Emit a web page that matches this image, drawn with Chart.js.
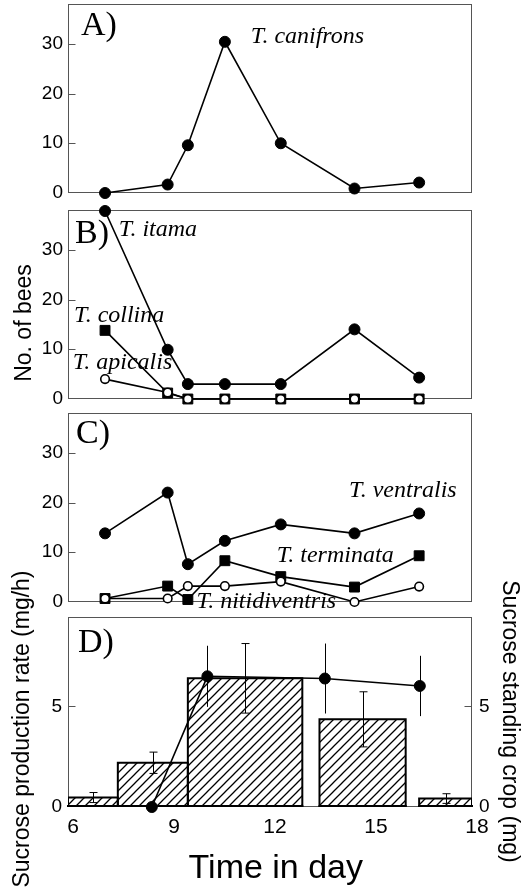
<!DOCTYPE html>
<html>
<head>
<meta charset="utf-8">
<script src="https://cdn.jsdelivr.net/npm/chart.js@4.4.1/dist/chart.umd.min.js"></script>
<style>
  html, body { margin: 0; padding: 0; background: #fff; width: 521px; height: 887px; overflow: hidden; position: relative; }
  canvas { position: absolute; left: 0; }
</style>
</head>
<body>
<canvas id="chartA" width="521" height="221" style="top:-12px"></canvas>
<canvas id="chartB" width="521" height="221" style="top:194px"></canvas>
<canvas id="chartC" width="521" height="221" style="top:397px"></canvas>
<canvas id="chartD" width="521" height="347" style="top:540px"></canvas>
<script>
// ----- data -----
// sampling times (hour of day)
const hours = [7.1, 8.96, 9.56, 10.66, 12.32, 14.51, 16.43];
// A) number of bees
const canifrons = [0, 1.7, 9.6, 30.4, 10.0, 0.9, 2.1];
// B)
const itama = [37.8, 9.9, 3.0, 3.0, 3.0, 14.0, 4.3];
const collina = [13.8, 1.2, 0, 0, 0, 0, 0];
const apicalis = [4.0, 1.3, 0, 0, 0, 0, 0];
// C)
const ventralis = [13.8, 22.0, 7.6, 12.3, 15.6, 13.8, 17.8];
const terminata = [0.7, 3.2, 0.5, 8.3, 5.1, 3.0, 9.3];
const nitidiventris = [0.7, 0.7, 3.2, 3.2, 4.1, 0, 3.1];
// D) sucrose production rate (mg/h) per interval
const binStart = [6.0, 7.48, 9.56, 13.47, 16.43];
const binEnd = [7.48, 9.56, 12.96, 16.03, 18.0];
const prodRate = [0.47, 2.2, 6.4, 4.36, 0.42];
const prodErr = [0.25, 0.53, 1.73, 1.37, 0.24];
// D) sucrose standing crop (mg)
const cropHours = [8.49, 10.14, 13.63, 16.45];
const cropMean = [0, 6.5, 6.39, 6.02];
const cropErr = [0, 1.52, 1.74, 1.5];
// ticks
const countTicks = [0, 10, 20, 30];
const sucroseTicks = [0, 5];
const hourTicks = [6, 9, 12, 15, 18];

Chart.defaults.color = '#000';
Chart.defaults.font.family = '"Liberation Sans", Arial, sans-serif';
Chart.defaults.animation = false;

const SERIF = '"Liberation Serif", "Times New Roman", serif';

function pts(xs, ys) { return xs.map((x, i) => ({x: x, y: ys[i]})); }

function hatch() {
  const c = document.createElement('canvas');
  c.width = 9; c.height = 9;
  const g = c.getContext('2d');
  g.strokeStyle = '#000';
  g.lineWidth = 1.3;
  g.beginPath();
  g.moveTo(0, 9); g.lineTo(9, 0);
  g.moveTo(-2, 2); g.lineTo(2, -2);
  g.moveTo(7, 11); g.lineTo(11, 7);
  g.stroke();
  return g.createPattern(c, 'repeat');
}

// frame around the plot + short inward tick marks
const frame = {
  id: 'frame',
  beforeDatasetsDraw(chart) {
    const {ctx, chartArea: a} = chart;
    ctx.save();
    ctx.strokeStyle = '#555';
    ctx.lineWidth = 1;
    const l = Math.round(a.left) + 0.5, t = Math.round(a.top) + 0.5;
    const r = Math.round(a.right) - 0.5, b = Math.round(a.bottom) - 0.5;
    ctx.strokeRect(l, t, r - l, b - t);
    ctx.beginPath();
    ['y', 'y2'].forEach(id => {
      const s = chart.scales[id];
      if (!s) return;
      const left = s.position === 'left';
      s.ticks.forEach(tk => {
        const py = Math.round(s.getPixelForValue(tk.value)) + 0.5;
        if (py <= t + 1 || py >= b - 1) return;
        ctx.moveTo(left ? l : r, py);
        ctx.lineTo(left ? l + 7 : r - 7, py);
      });
    });
    ctx.stroke();
    ctx.restore();
  }
};

// panel letters, species names and free axis titles
const notes = {
  id: 'notes',
  afterDraw(chart, args, opts) {
    const {ctx, chartArea: a} = chart;
    const sx = chart.scales.x, sy = chart.scales.y;
    ctx.save();
    ctx.fillStyle = '#000';
    ctx.textBaseline = 'alphabetic';
    if (opts.letter) {
      ctx.font = '34px ' + SERIF;
      ctx.textAlign = 'left';
      ctx.fillText(opts.letter[0], a.left + opts.letter[1], a.top + opts.letter[2]);
    }
    (opts.species || []).forEach(s => {
      ctx.font = 'italic 24px ' + SERIF;
      ctx.textAlign = 'left';
      ctx.fillText(s[0], sx.getPixelForValue(s[1]), sy.getPixelForValue(s[2]));
    });
    (opts.titles || []).forEach(tt => {
      ctx.save();
      ctx.font = tt.size + 'px "Liberation Sans", Arial, sans-serif';
      ctx.textAlign = 'center';
      ctx.translate(tt.x, tt.y);
      ctx.rotate(tt.rot * Math.PI / 180);
      ctx.fillText(tt.text, 0, 0);
      ctx.restore();
    });
    ctx.restore();
  }
};

// error bars for panel D
const errorBars = {
  id: 'errorBars',
  afterDatasetsDraw(chart) {
    const {ctx} = chart;
    const sx = chart.scales.x, sy = chart.scales.y, sy2 = chart.scales.y2;
    ctx.save();
    ctx.strokeStyle = '#000';
    ctx.lineWidth = 1;
    ctx.beginPath();
    prodRate.forEach((v, i) => {
      const px = Math.round(sx.getPixelForValue((binStart[i] + binEnd[i]) / 2)) + 0.5;
      const hi = sy.getPixelForValue(v + prodErr[i]);
      const lo = sy.getPixelForValue(v - prodErr[i]);
      ctx.moveTo(px, hi); ctx.lineTo(px, lo);
      ctx.moveTo(px - 4, hi); ctx.lineTo(px + 4, hi);
      ctx.moveTo(px - 4, lo); ctx.lineTo(px + 4, lo);
    });
    cropMean.forEach((v, i) => {
      if (!cropErr[i]) return;
      const px = Math.round(sx.getPixelForValue(cropHours[i])) + 0.5;
      ctx.moveTo(px, sy2.getPixelForValue(v + cropErr[i]));
      ctx.lineTo(px, sy2.getPixelForValue(v - cropErr[i]));
    });
    // bottom edges of the bars
    ctx.moveTo(0, 0);
    ctx.stroke();
    ctx.lineWidth = 2;
    ctx.beginPath();
    binStart.forEach((a, i) => {
      const y0 = sy.getPixelForValue(0) - 1;
      ctx.moveTo(sx.getPixelForValue(a) - 1, y0);
      ctx.lineTo(sx.getPixelForValue(binEnd[i]) + 1, y0);
    });
    ctx.stroke();
    ctx.restore();
  }
};

const tickFont = {size: 19};

function countAxis() {
  return {
    min: 0, max: 38,
    afterBuildTicks: s => { s.ticks = countTicks.map(v => ({value: v})); },
    afterFit: s => { s.width = 68; s.paddingTop = 0; s.paddingBottom = 0; },
    grid: {display: false, drawTicks: false},
    border: {display: false},
    ticks: {padding: 5, font: tickFont}
  };
}

function filled(data) {
  return {data: data, borderColor: '#000', backgroundColor: '#000', borderWidth: 1.6,
    pointRadius: 5.5, pointBorderWidth: 1, clip: false};
}
function squares(data) {
  return {data: data, borderColor: '#000', backgroundColor: '#000', borderWidth: 1.6,
    pointStyle: 'rect', pointRadius: 7, pointBorderWidth: 1, clip: false};
}
function open(data) {
  return {data: data, borderColor: '#000', backgroundColor: '#000', borderWidth: 1.6,
    pointBackgroundColor: '#fff', pointRadius: 4.3, pointBorderWidth: 1.6, clip: false};
}

function countPanel(id, datasets, noteOpts) {
  return new Chart(document.getElementById(id), {
    type: 'line',
    data: {datasets: datasets},
    options: {
      responsive: false,
      layout: {padding: {top: 16, bottom: 16, left: 0, right: 49}},
      scales: {
        x: {type: 'linear', min: 6, max: 18, display: false},
        y: countAxis()
      },
      plugins: {legend: {display: false}, tooltip: {enabled: false}, notes: noteOpts}
    },
    plugins: [frame, notes]
  });
}

countPanel('chartA', [filled(pts(hours, canifrons))], {
  letter: ['A)', 13, 31],
  species: [['T. canifrons', 11.43, 30.2]]
});

countPanel('chartB', [
  open(pts(hours, apicalis)),
  squares(pts(hours, collina)),
  filled(pts(hours, itama))
], {
  letter: ['B)', 7, 33],
  species: [['T. itama', 7.51, 32.8], ['T. collina', 6.18, 15.5], ['T. apicalis', 6.14, 6.0]],
  titles: [{text: 'No. of bees', x: 31, y: 129, rot: -90, size: 23}]
});

countPanel('chartC', [
  open(pts(hours, nitidiventris)),
  squares(pts(hours, terminata)),
  filled(pts(hours, ventralis))
], {
  letter: ['C)', 8, 30],
  species: [['T. ventralis', 14.35, 21.2], ['T. terminata', 12.2, 8.1], ['T. nitidiventris', 9.82, -1.27]]
});

const pattern = hatch();
const barSets = binStart.map((a, i) => ({
  data: [{x: a, y: 0}, {x: a, y: prodRate[i]}, {x: binEnd[i], y: prodRate[i]}, {x: binEnd[i], y: 0}],
  yAxisID: 'y', fill: 'origin', backgroundColor: pattern, borderColor: '#000',
  borderWidth: 2, pointRadius: 0
}));

new Chart(document.getElementById('chartD'), {
  type: 'line',
  data: {
    datasets: [Object.assign(filled(pts(cropHours, cropMean)), {yAxisID: 'y2'})].concat(barSets)
  },
  options: {
    responsive: false,
    layout: {padding: {top: 77, bottom: 0, left: 0, right: 0}},
    scales: {
      x: {
        type: 'linear', min: 6, max: 18, position: 'bottom',
        afterBuildTicks: s => { s.ticks = hourTicks.map(v => ({value: v})); },
        afterFit: s => { s.height = 80; },
        grid: {display: false, drawTicks: false},
        border: {display: false},
        ticks: {padding: 8, labelOffset: 5, maxRotation: 0, autoSkip: false, font: {size: 21}}
      },
      y: {
        min: 0, max: 9.45, position: 'left',
        afterBuildTicks: s => { s.ticks = sucroseTicks.map(v => ({value: v})); },
        afterFit: s => { s.width = 68; s.paddingTop = 0; s.paddingBottom = 0; },
        grid: {display: false, drawTicks: false},
        border: {display: false},
        ticks: {padding: 6, font: tickFont}
      },
      y2: {
        min: 0, max: 9.45, position: 'right',
        afterBuildTicks: s => { s.ticks = sucroseTicks.map(v => ({value: v})); },
        afterFit: s => { s.width = 49; s.paddingTop = 0; s.paddingBottom = 0; },
        grid: {display: false, drawTicks: false},
        border: {display: false},
        ticks: {padding: 7, font: tickFont}
      }
    },
    plugins: {
      legend: {display: false}, tooltip: {enabled: false},
      notes: {
        letter: ['D)', 10, 35],
        titles: [
          {text: 'Sucrose production rate (mg/h)', x: 28.5, y: 189, rot: -90, size: 23},
          {text: 'Sucrose standing crop (mg)', x: 503, y: 181.5, rot: 90, size: 23},
          {text: 'Time in day', x: 275.8, y: 338, rot: 0, size: 34}
        ]
      }
    }
  },
  plugins: [frame, errorBars, notes]
});
</script>
</body>
</html>
